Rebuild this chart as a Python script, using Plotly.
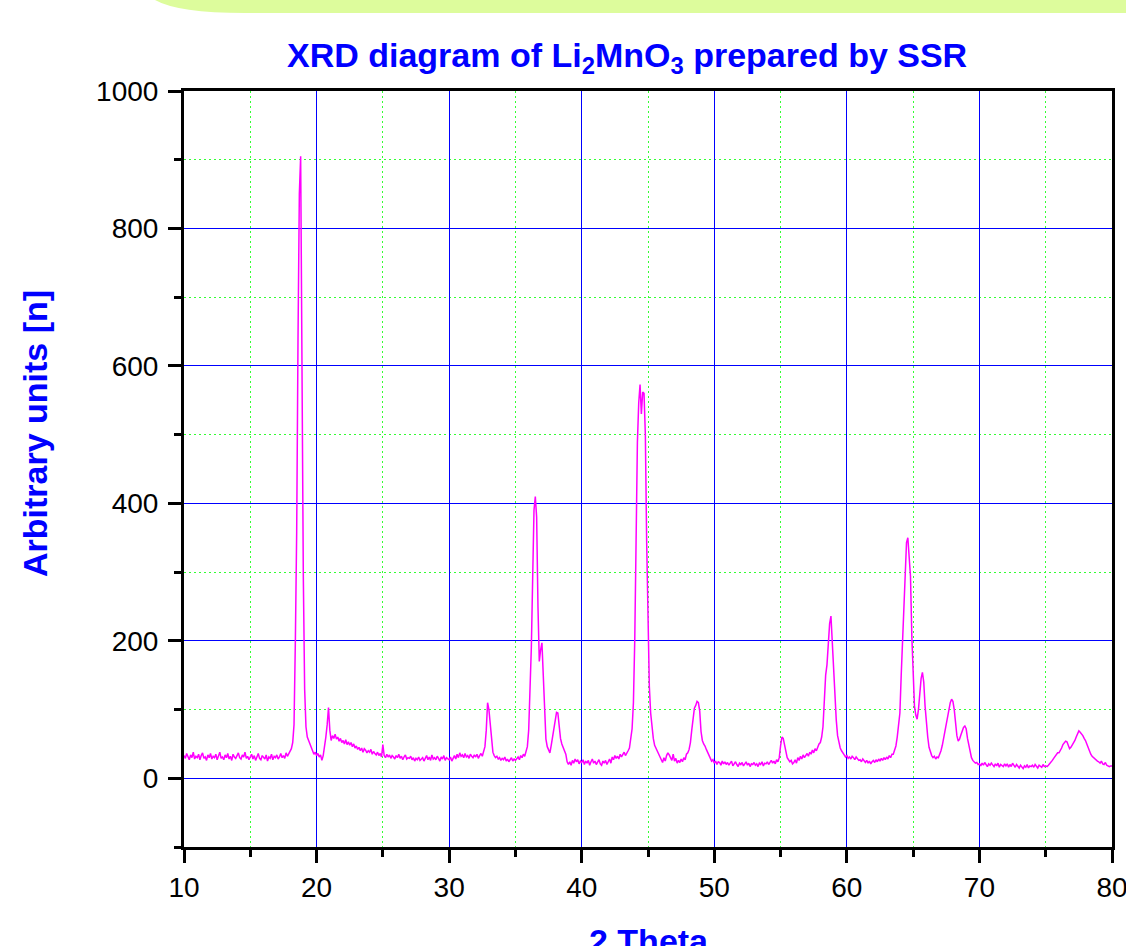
import numpy as np
import plotly.graph_objects as go

# 2-theta grid (degrees), 0.1 deg steps from 10 to 80
two_theta = np.round(np.arange(10.0, 80.0001, 0.1), 1)

# intensity values, one row per degree (x.0 ... x.9)
intensity = [
    33, 29, 36, 31, 27, 34, 30, 38, 28, 32,        # 10
    30, 35, 27, 33, 37, 29, 31, 26, 34, 30,        # 11
    36, 28, 32, 30, 35, 27, 33, 38, 29, 31,        # 12
    27, 34, 30, 36, 28, 32, 26, 35, 31, 29,        # 13
    33, 37, 30, 28, 34, 31, 38, 29, 32, 27,        # 14
    31, 35, 28, 33, 26, 30, 36, 29, 27, 33,        # 15
    30, 28, 34, 25, 31, 29, 35, 27, 32, 30,        # 16
    34, 28, 31, 36, 30, 33, 29, 37, 32, 35,        # 17
    39, 43, 52, 78, 200, 359, 640, 850, 905, 480,  # 18
    295, 130, 75, 60, 55, 50, 44, 41, 35, 38,      # 19
    33, 36, 31, 34, 26, 33, 45, 60, 78, 103,       # 20
    70, 55, 62, 58, 64, 57, 60, 54, 58, 52,        # 21
    55, 50, 56, 49, 53, 48, 52, 46, 50, 44,        # 22
    47, 42, 45, 40, 44, 38, 43, 41, 37, 40,        # 23
    38, 42, 35, 39, 36, 34, 38, 33, 36, 31,        # 24
    49, 33, 30, 35, 31, 34, 29, 33, 31, 28,        # 25
    33, 30, 35, 29, 32, 27, 31, 34, 28, 30,        # 26
    29, 32, 27, 30, 25, 29, 27, 31, 26, 28,        # 27
    30, 25, 29, 33, 27, 31, 26, 34, 28, 30,        # 28
    27, 32, 29, 25, 31, 28, 33, 26, 30, 28,        # 29
    27, 31, 25, 29, 33, 28, 35, 30, 37, 32,        # 30
    34, 30, 36, 31, 33, 29, 35, 32, 30, 34,        # 31
    31, 35, 29, 33, 36, 32, 38, 46, 70, 110,       # 32
    100, 78, 50, 38, 33, 30, 32, 28, 30, 26,       # 33
    29, 27, 31, 25, 28, 24, 27, 30, 25, 28,        # 34
    26, 29, 31, 27, 33, 30, 35, 32, 38, 46,        # 35
    70, 120, 190, 290, 390, 410, 380, 250, 170, 187,  # 36
    197, 150, 95, 57, 46, 42, 37, 48, 60, 67,      # 37
    85, 96, 95, 70, 58, 50, 45, 42, 35, 24,        # 38
    20, 24, 19, 26, 22, 28, 24, 27, 21, 25,        # 39
    23, 27, 20, 25, 22, 26, 19, 24, 28, 22,        # 40
    25, 20, 24, 27, 21, 19, 25, 22, 26, 20,        # 41
    24, 28, 22, 31, 27, 33, 29, 32, 28, 35,        # 42
    31, 34, 38, 33, 36, 40, 44, 55, 72, 110,       # 43
    200, 343, 488, 546, 573, 530, 562, 560, 500, 343,  # 44
    221, 134, 95, 70, 58, 48, 44, 38, 36, 32,      # 45
    28, 23, 30, 25, 33, 37, 34, 30, 26, 35,        # 46
    25, 29, 22, 26, 23, 28, 24, 30, 27, 35,        # 47
    37, 42, 52, 70, 88, 102, 106, 112, 110, 98,    # 48
    68, 55, 50, 47, 42, 38, 35, 30, 25, 27,        # 49
    22, 25, 20, 24, 23, 19, 25, 21, 24, 20,        # 50
    23, 19, 22, 25, 18, 21, 24, 20, 17, 22,        # 51
    20, 23, 18, 21, 24, 19, 22, 17, 21, 20,        # 52
    23, 19, 21, 17, 22, 20, 24, 18, 22, 21,        # 53
    24, 20, 23, 26, 22, 25, 21, 27, 24, 30,        # 54
    47, 60, 58, 50, 38, 30, 27, 24, 26, 21,        # 55
    23, 27, 22, 30, 26, 32, 28, 34, 30, 33,        # 56
    36, 32, 38, 35, 41, 37, 43, 40, 46, 50,        # 57
    52, 60, 75, 115, 150, 165, 195, 225, 236, 195, # 58
    160, 120, 85, 62, 52, 44, 40, 36, 34, 31,      # 59
    33, 29, 31, 28, 32, 30, 27, 31, 29, 26,        # 60
    27, 24, 28, 25, 23, 26, 22, 25, 21, 24,        # 61
    26, 23, 27, 24, 28, 25, 29, 26, 30, 27,        # 62
    31, 28, 33, 30, 35, 35, 40, 47, 60, 78,        # 63
    95, 150, 205, 255, 305, 343, 350, 318, 294, 207,  # 64
    139, 105, 92, 86, 100, 125, 145, 154, 140, 105,   # 65
    78, 60, 45, 37, 33, 30, 32, 28, 31, 30,        # 66
    35, 40, 48, 58, 67, 78, 92, 100, 110, 115,     # 67
    112, 100, 80, 62, 54, 57, 63, 70, 74, 76,      # 68
    72, 58, 48, 38, 30, 26, 24, 22, 23, 20,        # 69
    21, 18, 22, 19, 23, 20, 17, 21, 19, 22,        # 70
    20, 17, 21, 18, 22, 16, 20, 19, 17, 21,        # 71
    18, 21, 16, 20, 17, 22, 19, 16, 20, 18,        # 72
    15, 19, 17, 14, 18, 16, 20, 15, 18, 17,        # 73
    19, 16, 20, 17, 15, 19, 18, 16, 20, 17,        # 74
    18, 17, 19, 21, 24, 26, 29, 32, 35, 37,        # 75
    37, 40, 44, 49, 52, 54, 53, 48, 43, 45,        # 76
    48, 52, 55, 60, 66, 69, 67, 65, 62, 58,        # 77
    55, 50, 45, 38, 35, 32, 30, 28, 27, 25,        # 78
    24, 22, 25, 21, 20, 23, 19, 18, 17, 18,        # 79
    18,                                            # 80
]

x_ticks = [10, 20, 30, 40, 50, 60, 70, 80]
y_ticks = [0, 200, 400, 600, 800, 1000]

title_text = "<b>XRD diagram of Li<sub>2</sub>MnO<sub>3</sub> prepared by SSR</b>"
x_title = "<b>2 Theta</b>"
y_title = "<b>Arbitrary units [n]</b>"

FONT = "Liberation Sans, Arial, sans-serif"
BLUE = "#0000FF"
GREEN = "#33FF33"

fig = go.Figure()
fig.add_trace(go.Scatter(
    x=two_theta, y=intensity, mode="lines",
    line=dict(color="#FF00FF", width=1.5),
    showlegend=False, hoverinfo="x+y",
))

axis_common = dict(
    showline=True, linecolor="black", linewidth=3, mirror=True,
    ticks="outside", ticklen=13, tickwidth=3, tickcolor="black",
    showgrid=True, gridcolor=BLUE, gridwidth=1,
    zeroline=False,
    ticklabeloverflow="allow",
    tickfont=dict(family=FONT, size=28, color="black"),
)

fig.update_xaxes(
    range=[10, 80], tickvals=x_ticks,
    minor=dict(dtick=5, tick0=10, ticks="outside", ticklen=7, tickwidth=3,
               tickcolor="black", showgrid=True, gridcolor=GREEN,
               griddash="2px,3px", gridwidth=1),
    **axis_common,
)
fig.update_yaxes(
    range=[-100, 1000], tickvals=y_ticks,
    minor=dict(dtick=100, tick0=0, ticks="outside", ticklen=7, tickwidth=3,
               tickcolor="black", showgrid=True, gridcolor=GREEN,
               griddash="2px,3px", gridwidth=1),
    ticklabelstandoff=4,
    **axis_common,
)

W, H = 1126, 946
L, R, T, B = 184, 14, 91, 99
pw, ph = W - L - R, H - T - B


def px(xp):
    return (xp - L) / pw


def py(yp):
    return (H - B - yp) / ph


fig.add_annotation(text=title_text, xref="paper", yref="paper",
                   x=px(627), y=py(58), xanchor="center", yanchor="middle",
                   showarrow=False, font=dict(family=FONT, size=34, color=BLUE))
fig.add_annotation(text=y_title, xref="paper", yref="paper",
                   x=px(35), y=py(434), xanchor="center", yanchor="middle",
                   textangle=-90, showarrow=False,
                   font=dict(family=FONT, size=34, color=BLUE))
fig.add_annotation(text=x_title, xref="paper", yref="paper",
                   x=px(649), y=py(920), xanchor="center", yanchor="top",
                   showarrow=False, font=dict(family=FONT, size=34, color=BLUE))

# light green decoration band at the top edge
path = (f"M {px(150)},{py(-20)} L {px(155)},{py(0)} "
        f"Q {px(178)},{py(13)} {px(245)},{py(13)} "
        f"L {px(1140)},{py(13)} L {px(1140)},{py(-20)} Z")
fig.add_shape(type="path", path=path, xref="paper", yref="paper",
              fillcolor="#DDFC9C", line=dict(width=0), layer="below")

fig.update_layout(
    width=W, height=H,
    margin=dict(l=L, r=R, t=T, b=B, autoexpand=False),
    paper_bgcolor="white", plot_bgcolor="white",
    font=dict(family=FONT),
)

fig.write_html("out.html",
               config={"displayModeBar": False},
               post_script="document.body.style.margin='0px';"
                           "document.body.style.overflow='hidden';")
